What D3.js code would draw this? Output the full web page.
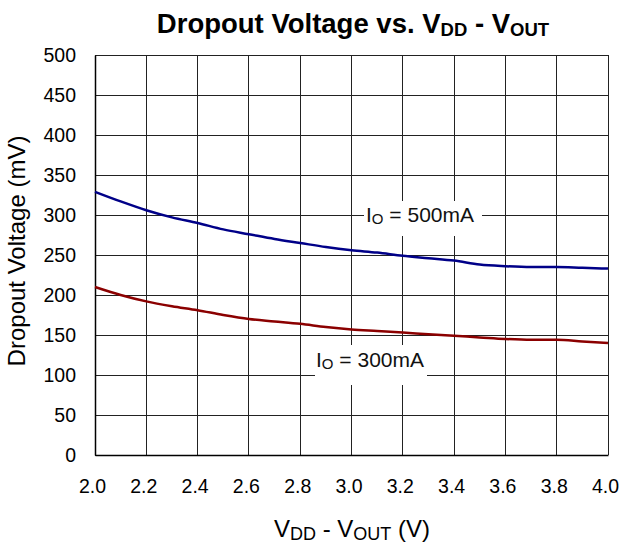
<!DOCTYPE html>
<html>
<head>
<meta charset="utf-8">
<script src="https://cdn.jsdelivr.net/npm/d3@7"></script>
<style>
  body { margin: 0; background: #fff; }
  text { font-family: "Liberation Sans", Arial, sans-serif; }
</style>
</head>
<body>
<div id="chart"></div>
<script>
// data
var vdiff = [2.0, 2.1, 2.2, 2.3, 2.4, 2.5, 2.6, 2.7, 2.8, 2.9, 3.0, 3.1, 3.2, 3.3, 3.4, 3.5, 3.6, 3.7, 3.8, 3.9, 4.0];
var io500 = [329, 317, 306, 297, 290, 282, 276, 270, 265, 260, 256, 253, 249, 246, 243, 238, 236, 235, 235, 234, 233];
var io300 = [210, 200, 192, 186, 181, 175, 170, 167, 164, 160, 157, 155, 153, 151, 149, 147, 145, 144, 144, 142, 140];
var xTicks = [2.0, 2.2, 2.4, 2.6, 2.8, 3.0, 3.2, 3.4, 3.6, 3.8, 4.0];
var yTicks = [0, 50, 100, 150, 200, 250, 300, 350, 400, 450, 500];

var width = 619,
    height = 545,
    margin = {top: 55, right: 11, bottom: 90, left: 95};

var svg = d3.select("#chart")
  .append("svg")
    .attr("width", width)
    .attr("height", height);

var x = d3.scaleLinear().domain([2.0, 4.0]).range([margin.left, width - margin.right]);
var y = d3.scaleLinear().domain([0, 500]).range([height - margin.bottom, margin.top]);

// grid
svg.append("g")
  .selectAll("line")
  .data(xTicks)
  .enter()
  .append("line")
    .attr("x1", function(d) { return x(d); })
    .attr("x2", function(d) { return x(d); })
    .attr("y1", y(0))
    .attr("y2", y(500))
    .attr("stroke", "#222")
    .attr("stroke-width", 1)
    .attr("shape-rendering", "crispEdges");

svg.append("g")
  .selectAll("line")
  .data(yTicks)
  .enter()
  .append("line")
    .attr("x1", x(2.0))
    .attr("x2", x(4.0))
    .attr("y1", function(d) { return y(d); })
    .attr("y2", function(d) { return y(d); })
    .attr("stroke", "#222")
    .attr("stroke-width", 1)
    .attr("shape-rendering", "crispEdges");

// axes
var xAxis = svg.append("g")
  .attr("transform", "translate(0," + y(0) + ")")
  .call(d3.axisBottom(x).tickValues(xTicks).tickFormat(d3.format(".1f")).tickSize(0).tickPadding(24));
var yAxis = svg.append("g")
  .attr("transform", "translate(" + x(2.0) + ",0)")
  .call(d3.axisLeft(y).tickValues(yTicks).tickSize(0).tickPadding(19));

[xAxis, yAxis].forEach(function(a) {
  a.select(".domain").attr("stroke", "#000").attr("stroke-width", 1.5);
  a.selectAll("text")
    .attr("fill", "#000")
    .style("font-family", "'Liberation Sans', Arial, sans-serif")
    .style("font-size", "19.5px");
});
xAxis.selectAll("text").attr("dx", -3);

// curves
var line = d3.line()
  .x(function(d, i) { return x(vdiff[i]); })
  .y(function(d) { return y(d); })
  .curve(d3.curveMonotoneX);

svg.append("path")
  .datum(io500)
  .attr("d", line)
  .attr("fill", "none")
  .attr("stroke", "#000088")
  .attr("stroke-width", 2.5);

svg.append("path")
  .datum(io300)
  .attr("d", line)
  .attr("fill", "none")
  .attr("stroke", "#8b0000")
  .attr("stroke-width", 2.5);

// curve labels with white boxes
function curveLabel(bx, by, w, h, tx, ty, value) {
  svg.append("rect")
    .attr("x", bx)
    .attr("y", by)
    .attr("width", w)
    .attr("height", h)
    .attr("fill", "#fff");
  var t = svg.append("text")
    .attr("x", tx)
    .attr("y", ty)
    .style("font-size", "21px")
    .attr("fill", "#111");
  t.append("tspan").text("I");
  t.append("tspan").attr("dy", 2).style("font-size", "15px").text("O");
  t.append("tspan").attr("dy", -2).text(" = " + value);
}
curveLabel(364, 201, 118, 35, 366, 222, "500mA");
curveLabel(315, 345, 112, 40, 316, 367, "300mA");

// title
var title = svg.append("text")
  .attr("x", 353)
  .attr("y", 33)
  .attr("text-anchor", "middle")
  .style("font-size", "27.5px")
  .style("font-weight", "bold");
title.append("tspan").text("Dropout Voltage vs. V");
title.append("tspan").attr("dy", 3).style("font-size", "18.5px").text("DD");
title.append("tspan").attr("dy", -3).text(" - V");
title.append("tspan").attr("dy", 3).style("font-size", "18.5px").text("OUT");

// x axis title
var xt = svg.append("text")
  .attr("x", 352)
  .attr("y", 537)
  .attr("text-anchor", "middle")
  .style("font-size", "24px");
xt.append("tspan").text("V");
xt.append("tspan").attr("dy", 3).style("font-size", "18px").text("DD");
xt.append("tspan").attr("dy", -3).text(" - V");
xt.append("tspan").attr("dy", 3).style("font-size", "18px").text("OUT");
xt.append("tspan").attr("dy", -3).text(" (V)");

// y axis title
svg.append("text")
  .attr("transform", "translate(25,251) rotate(-90)")
  .attr("text-anchor", "middle")
  .style("font-size", "24px")
  .text("Dropout Voltage (mV)");
</script>
</body>
</html>
